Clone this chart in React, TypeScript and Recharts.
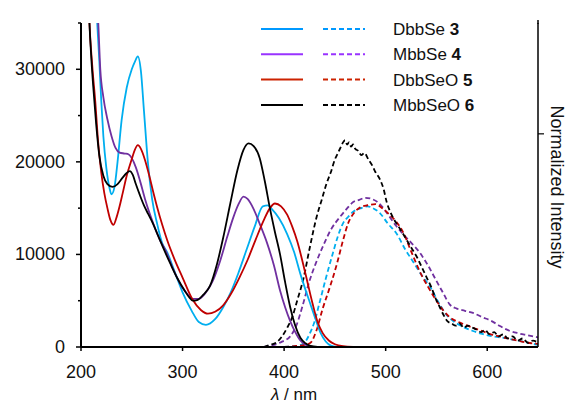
import { LineChart, Line, XAxis, YAxis } from "recharts";

type Pt = [number, number];

const wavelengthTicks = [200, 300, 400, 500, 600];
const absorbanceTicks = [0, 5000, 10000, 15000, 20000, 25000, 30000, 35000];
const intensityTicks = [1];

// absorption (left axis, M^-1 cm^-1)
const dbbSeAbs: Pt[] = [
  [212, 45000], [215, 37000], [218, 31000], [220, 26500], [222, 22800], [225, 19300],
  [228, 17200], [230, 16500], [233, 17300], [236, 20000], [240, 24500], [245, 28000],
  [250, 30000], [253, 30800], [256, 31400], [259, 29800], [262, 25500], [266, 19800],
  [270, 16000], [275, 13300], [280, 11200], [285, 10200], [292, 8200], [300, 5900],
  [309, 3900], [316, 2700], [323, 2400], [332, 3000], [340, 4300], [347, 5800],
  [355, 8000], [363, 10500], [371, 13000], [379, 15200], [384, 15300], [388, 14900],
  [395, 13900], [403, 12200], [410, 10200], [416, 7900], [421, 6200], [426, 4600],
  [431, 3000], [436, 1500], [441, 600], [446, 150], [452, 0],
];
const mbbSeAbs: Pt[] = [
  [212, 48000], [215, 39000], [217, 35000], [219, 30000], [222, 27000], [226, 24600],
  [230, 22800], [234, 21500], [238, 21000], [243, 20900], [247, 20800], [250, 20400],
  [254, 19400], [258, 18000], [263, 16000], [268, 14300], [273, 12800], [278, 11500],
  [283, 10500], [290, 8600], [300, 6400], [305, 5700], [310, 5200], [316, 5200],
  [323, 5900], [330, 7200], [337, 9300], [344, 11900], [350, 14000], [355, 15400],
  [360, 16250], [364, 16000], [370, 14900], [376, 13300], [383, 11300], [390, 8800],
  [396, 6100], [401, 4300], [406, 2800], [411, 1600], [416, 700], [421, 250],
  [426, 80], [432, 0],
];
const dbbSeOAbs: Pt[] = [
  [205, 50000], [208, 36000], [211, 30500], [214, 26600], [217, 22000], [220, 18800],
  [223, 16600], [226, 15000], [229, 13700], [232, 13200], [235, 14000], [238, 15200],
  [241, 16600], [245, 18500], [250, 20300], [253, 21300], [256, 21800], [259, 21400],
  [263, 20200], [267, 18600], [271, 16800], [275, 15100], [280, 13200], [285, 11500],
  [292, 9500], [300, 7500], [310, 5100], [318, 4000], [325, 3600], [332, 3800],
  [340, 4500], [348, 5800], [356, 7500], [364, 9400], [372, 11600], [380, 13700],
  [386, 15000], [391, 15500], [397, 15200], [403, 14300], [408, 13000], [413, 11400],
  [418, 9300], [423, 7000], [428, 4700], [433, 2700], [438, 1500], [444, 700],
  [450, 300], [458, 80], [468, 0],
];
const mbbSeOAbs: Pt[] = [
  [205, 52000], [208, 36000], [210, 31500], [212, 28200], [215, 24000], [218, 20700],
  [222, 18500], [226, 17600], [231, 17300], [236, 17600], [241, 18300], [245, 18800],
  [248, 19000], [251, 18600], [254, 17600], [258, 16400], [262, 15300], [266, 14400],
  [271, 13300], [276, 12000], [281, 10700], [288, 9000], [295, 7400], [302, 6100],
  [307, 5300], [310, 5000], [315, 5100], [320, 5600], [327, 6600], [334, 9000],
  [340, 11800], [347, 15500], [354, 19100], [360, 21300], [365, 22000], [370, 21700],
  [376, 20400], [381, 17900], [386, 15000], [391, 12400], [396, 10000], [401, 7000],
  [406, 4300], [411, 2300], [416, 1000], [421, 400], [426, 120], [433, 0],
];

// emission (right axis, normalized)
const dbbSeEm: Pt[] = [
  [400, 0], [412, 0.005], [419, 0.015], [425, 0.06], [430, 0.12], [435, 0.21],
  [441, 0.32], [448, 0.44], [453, 0.52], [458, 0.58], [463, 0.61], [468, 0.635],
  [475, 0.65], [482, 0.66], [488, 0.65], [494, 0.63], [502, 0.58], [511, 0.53],
  [519, 0.46], [527, 0.4], [535, 0.34], [544, 0.28], [552, 0.21], [560, 0.15],
  [567, 0.12], [576, 0.095], [586, 0.075], [596, 0.06], [606, 0.05], [620, 0.04],
  [635, 0.025], [650, 0.01],
];
const mbbSeEm: Pt[] = [
  [380, 0], [390, 0.01], [398, 0.025], [406, 0.05], [412, 0.1], [418, 0.19],
  [425, 0.31], [431, 0.39], [438, 0.47], [446, 0.55], [455, 0.61], [462, 0.65],
  [468, 0.68], [474, 0.69], [480, 0.7], [486, 0.695], [492, 0.68], [498, 0.65],
  [504, 0.61], [510, 0.57], [517, 0.53], [525, 0.49], [534, 0.44], [542, 0.38],
  [550, 0.31], [557, 0.25], [563, 0.2], [570, 0.18], [578, 0.17], [586, 0.16],
  [595, 0.14], [603, 0.125], [612, 0.1], [620, 0.08], [630, 0.065], [640, 0.055],
  [650, 0.045],
];
const dbbSeOEm: Pt[] = [
  [400, 0], [412, 0.005], [420, 0.01], [426, 0.02], [432, 0.08], [438, 0.18],
  [445, 0.28], [452, 0.39], [458, 0.5], [463, 0.58], [469, 0.63], [475, 0.655],
  [482, 0.665], [490, 0.67], [497, 0.65], [504, 0.62], [510, 0.59], [517, 0.54],
  [525, 0.45], [534, 0.35], [542, 0.28], [551, 0.21], [557, 0.17], [563, 0.14],
  [570, 0.12], [578, 0.105], [586, 0.09], [595, 0.075], [603, 0.06], [612, 0.05],
  [620, 0.04], [630, 0.03], [640, 0.02], [650, 0.015],
];
const mbbSeOEm: Pt[] = [
  [380, 0], [386, 0.01], [392, 0.02], [398, 0.05], [403, 0.09], [408, 0.14],
  [413, 0.22], [419, 0.32], [425, 0.46], [432, 0.61], [437, 0.69], [442, 0.77],
  [446, 0.82], [450, 0.88], [453, 0.91], [456, 0.94], [458, 0.96], [460, 0.97],
  [462, 0.95], [464, 0.96], [466, 0.94], [468, 0.95], [470, 0.93], [473, 0.92],
  [476, 0.9], [479, 0.91], [483, 0.88], [487, 0.85], [490, 0.82], [494, 0.79],
  [498, 0.74], [501, 0.68], [504, 0.64], [508, 0.6], [512, 0.57], [516, 0.54],
  [521, 0.5], [526, 0.46], [531, 0.42], [536, 0.37], [541, 0.32], [545, 0.28],
  [549, 0.23], [553, 0.19], [557, 0.15], [561, 0.12], [565, 0.11], [569, 0.1],
  [573, 0.11], [577, 0.09], [581, 0.1], [586, 0.09], [590, 0.08], [594, 0.07],
  [598, 0.08], [602, 0.06], [607, 0.07], [611, 0.05], [616, 0.06], [620, 0.04],
  [625, 0.05], [630, 0.03], [635, 0.04], [640, 0.02], [645, 0.03], [650, 0.02],
];

const compounds = [
  { name: "DbbSe", num: "3", abs: dbbSeAbs, em: dbbSeEm, color: "#00aeef", key: "#0099ff" },
  { name: "MbbSe", num: "4", abs: mbbSeAbs, em: mbbSeEm, color: "#7030a0", key: "#9933ff" },
  { name: "DbbSeO", num: "5", abs: dbbSeOAbs, em: dbbSeOEm, color: "#c00000", key: "#cc2200" },
  { name: "MbbSeO", num: "6", abs: mbbSeOAbs, em: mbbSeOEm, color: "#000000", key: "#000000" },
];

const toRows = (pts: Pt[]) => pts.map(([x, y]) => ({ x, y }));

const font = "Arial, 'Liberation Sans', sans-serif";

const LeftTick = (props: any) => {
  const { x, y, payload } = props;
  const major = payload.value % 10000 === 0;
  return (
    <g>
      <line x1={x - (major ? 5 : 3)} x2={x} y1={y} y2={y} stroke="#000" strokeWidth={1.5} />
      {major && (
        <text x={x - 16} y={y} dy={6} textAnchor="end" fontSize={18} fontFamily={font} fill="#111">
          {payload.value}
        </text>
      )}
    </g>
  );
};

const RightTick = (props: any) => {
  const { x, y } = props;
  return <line x1={x} x2={x + 6} y1={y} y2={y} stroke="#000" strokeWidth={1.2} />;
};

export default function App() {
  return (
    <div style={{ position: "absolute", left: 0, top: 0, width: 573, height: 405, background: "#fff" }}>
      <LineChart width={573} height={405} margin={{ top: 23, right: 0, bottom: 0, left: 0 }}>
        <XAxis
          dataKey="x"
          type="number"
          domain={[200, 650]}
          ticks={wavelengthTicks}
          allowDataOverflow
          height={58}
          tickSize={4}
          tickMargin={14}
          tick={{ fontSize: 18, fontFamily: font, fill: "#111" }}
          axisLine={{ stroke: "#000", strokeWidth: 2 }}
          tickLine={{ stroke: "#000", strokeWidth: 1.5 }}
        />
        <YAxis
          yAxisId="abs"
          type="number"
          domain={[0, 35000]}
          ticks={absorbanceTicks}
          interval={0}
          allowDataOverflow
          width={81}
          tickSize={0}
          tickMargin={0}
          tick={<LeftTick />}
          tickLine={false}
          axisLine={{ stroke: "#000", strokeWidth: 2 }}
        />
        <YAxis
          yAxisId="em"
          orientation="right"
          type="number"
          domain={[0, 1.52]}
          ticks={intensityTicks}
          interval={0}
          allowDataOverflow
          width={35}
          tickSize={0}
          tickMargin={0}
          tick={<RightTick />}
          tickLine={false}
          axisLine={{ stroke: "#000", strokeWidth: 1.5 }}
        />
        {compounds.map((c) => (
          <Line
            key={c.name + "-em"}
            yAxisId="em"
            data={toRows(c.em)}
            dataKey="y"
            type="monotone"
            stroke={c.color}
            strokeWidth={1.8}
            strokeDasharray="5 3"
            dot={false}
            activeDot={false}
            isAnimationActive={false}
          />
        ))}
        {compounds.map((c) => (
          <Line
            key={c.name + "-abs"}
            yAxisId="abs"
            data={toRows(c.abs)}
            dataKey="y"
            type="monotone"
            stroke={c.color}
            strokeWidth={1.8}
            dot={false}
            activeDot={false}
            isAnimationActive={false}
          />
        ))}
      </LineChart>
      <svg
        width={573}
        height={405}
        style={{ position: "absolute", left: 0, top: 0, pointerEvents: "none" }}
        fontFamily={font}
      >
        {compounds.map((c, i) => {
          const y = 29 + i * 25.3;
          return (
            <g key={c.name}>
              <line x1={261} x2={303} y1={y} y2={y} stroke={c.key} strokeWidth={2} />
              <line x1={323} x2={365} y1={y} y2={y} stroke={c.key} strokeWidth={2} strokeDasharray="5 3" />
              <text x={393} y={y + 6} fontSize={17} fill="#111">
                {c.name} <tspan fontWeight="bold">{c.num}</tspan>
              </text>
            </g>
          );
        })}
        <line x1={538} x2={538} y1={20} y2={24} stroke="#000" strokeWidth={1.5} />
        <text
          x={551}
          y={187}
          transform="rotate(90 551 187)"
          textAnchor="middle"
          fontSize={18}
          fill="#111"
        >
          Normalized Intensity
        </text>
        <text x={294} y={400} textAnchor="middle" fontSize={17} fill="#111">
          <tspan fontStyle="italic">λ</tspan> / nm
        </text>
      </svg>
    </div>
  );
}
